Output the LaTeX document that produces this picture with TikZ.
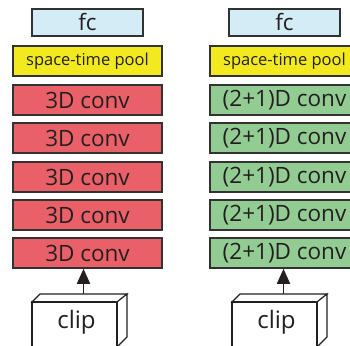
\documentclass[tikz,border=0pt]{standalone}
\usepackage{fontspec}
\setmainfont{Open Sans}
\usetikzlibrary{arrows.meta,calc}
\definecolor{fcblue}{RGB}{212,236,245}
\definecolor{poolyellow}{RGB}{242,234,30}
\definecolor{convred}{RGB}{234,96,104}
\definecolor{convgreen}{RGB}{146,204,146}
\definecolor{edge}{RGB}{50,50,50}
\definecolor{ink}{RGB}{35,31,32}
\tikzset{
  layer/.style={draw=edge, line width=1.6pt, minimum width=149pt, minimum height=30pt,
                inner sep=0pt, text=ink, font=\fontsize{22.5}{24}\selectfont},
  fcbox/.style={layer, fill=fcblue, minimum width=111pt, minimum height=27pt},
  poolbox/.style={layer, fill=poolyellow, font=\fontsize{16.5}{18}\selectfont},
  conv3d/.style={layer, fill=convred},
  conv21/.style={layer, fill=convgreen},
  cliptext/.style={inner sep=0pt, text=ink, font=\fontsize{24}{26}\selectfont},
  blockline/.style={line width=1.1pt, draw=ink, fill=white},
  feed/.style={line width=1.8pt, draw=ink, -{Triangle[length=15pt,width=13pt]}},
}
\newcommand{\clipbox}[2]{%
  % front face, top face and right face of a flat 3-D block
  \coordinate (#2fl) at ($(#1,0)+(-42.5,302)$);
  \coordinate (#2fr) at ($(#1,0)+(42.5,302)$);
  \coordinate (#2bl) at ($(#1,0)+(-34.5,294)$);
  \coordinate (#2br) at ($(#1,0)+(52.5,294)$);
  \coordinate (#2top) at ($(#1,0)+(9,294)$);
  \draw[blockline] (#2fl) -- (#2bl) -- (#2br) -- (#2fr) -- cycle;
  \draw[blockline] (#2fr) -- (#2br) -- ($(#1,0)+(52.5,337)$) -- ($(#1,0)+(42.5,347)$) -- cycle;
  \draw[blockline] (#2fl) rectangle ($(#1,0)+(42.5,347)$);
  \node[cliptext] (#2) at ($(#1,0)+(2,322)$) {clip};
}
\begin{document}
\begin{tikzpicture}[x=1pt,y=-1pt]
  \useasboundingbox (0,0) rectangle (350,345);
  \clip (0,0) rectangle (350,345);
  % left network: 3D convolutions
  \node[fcbox]   (lfc)   at (87.5,22.5) {fc};
  \node[poolbox] (lpool) at (87.5,61)   {space-time pool};
  \node[conv3d]  (l5)    at (87.5,100)  {3D conv};
  \node[conv3d]  (l4)    at (87.5,138)  {3D conv};
  \node[conv3d]  (l3)    at (87.5,177)  {3D conv};
  \node[conv3d]  (l2)    at (87.5,215)  {3D conv};
  \node[conv3d]  (l1)    at (87.5,253)  {3D conv};
  \clipbox{74.5}{lclip}
  \draw[feed] (lcliptop) -- (lcliptop |- l1.south);
  % right network: (2+1)D convolutions
  \node[fcbox]   (rfc)   at (284.5,22.5) {fc};
  \node[poolbox] (rpool) at (284.5,61)   {space-time pool};
  \node[conv21]  (r5)    at (284.5,100)  {(2+1)D conv};
  \node[conv21]  (r4)    at (284.5,138)  {(2+1)D conv};
  \node[conv21]  (r3)    at (284.5,177)  {(2+1)D conv};
  \node[conv21]  (r2)    at (284.5,215)  {(2+1)D conv};
  \node[conv21]  (r1)    at (284.5,253)  {(2+1)D conv};
  \clipbox{274.5}{rclip}
  \draw[feed] (rcliptop) -- (rcliptop |- r1.south);
\end{tikzpicture}
\end{document}
